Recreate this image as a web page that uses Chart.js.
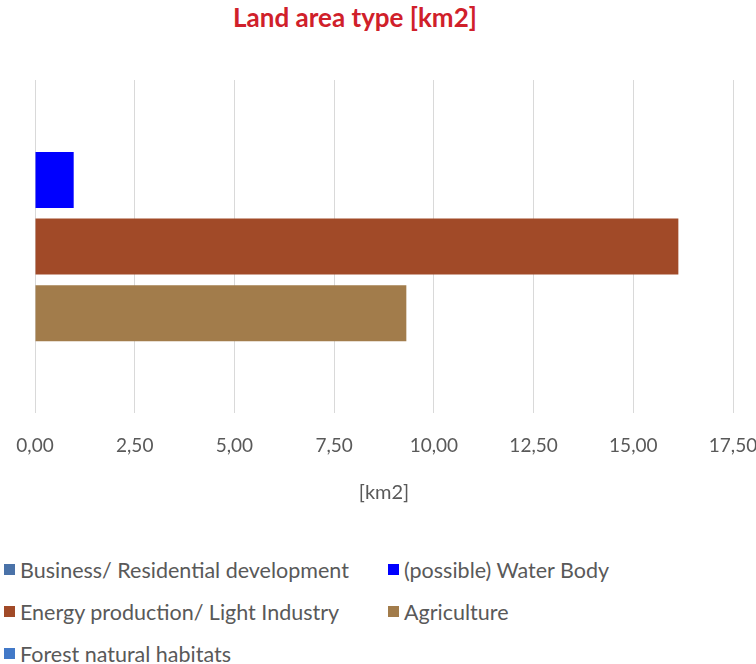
<!DOCTYPE html>
<html>
<head>
<meta charset="utf-8">
<script src="https://cdn.jsdelivr.net/npm/chart.js@4"></script>
<style>
  body { margin: 0; width: 756px; height: 664px; background: #fff; overflow: hidden; position: relative; font-family: Lato, sans-serif; }
  #title { position: absolute; top: 1px; left: 0; width: 710px; text-align: center; color: #d0202a; font: bold 26px Lato, sans-serif; }
  #wrap { position: absolute; top: 0; left: 0; width: 756px; height: 513px; }
  #legend { position: absolute; top: 558px; left: 4px; width: 750px; display: grid; grid-template-columns: 384px 360px; row-gap: 19px; }
  .item { display: flex; align-items: center; font-size: 21.5px; color: #595959; height: 23px; white-space: nowrap; }
  .box { width: 11px; height: 11px; margin-right: 5px; }
</style>
</head>
<body>
<div id="title">Land area type [km2]</div>
<div id="wrap"><canvas id="chart"></canvas></div>
<div id="legend"></div>
<script>
// --- Dados ---
const categories = ['Land area'];
const seriesNames = ['Business/ Residential development', '(possible) Water Body', 'Energy production/ Light Industry', 'Agriculture', 'Forest natural habitats'];
const seriesValues = [0, 0.97, 16.13, 9.31, 0];
const seriesColors = ['#4a72a8', '#0000ff', '#a14a28', '#a27c4b', '#4279c8'];
const xTicks = [0, 2.5, 5, 7.5, 10, 12.5, 15, 17.5];

const datasets = seriesNames.map((name, i) => ({
    label: name,
    data: [seriesValues[i]],
    backgroundColor: seriesColors[i],
    borderWidth: 0,
    categoryPercentage: 1,
    barPercentage: 0.84
}));

const ctx = document.getElementById('chart').getContext('2d');
new Chart(ctx, {
    type: 'bar',
    data: { labels: categories, datasets: datasets },
    options: {
        indexAxis: 'y',
        responsive: true,
        maintainAspectRatio: false,
        animation: false,
        layout: { padding: { top: 80, left: 35, right: 23, bottom: 0 } },
        scales: {
            x: {
                min: 0,
                max: 17.5,
                afterBuildTicks: (axis) => { axis.ticks = xTicks.map(v => ({ value: v })); },
                afterFit: (axis) => { axis.paddingLeft = 0; axis.paddingRight = 0; },
                grid: { color: '#d9d9d9', drawTicks: false },
                border: { display: false },
                ticks: {
                    color: '#595959',
                    font: { family: 'Lato', size: 19 },
                    padding: 21,
                    callback: (v) => v.toFixed(2).replace('.', ',')
                },
                title: { display: true, text: '[km2]', color: '#595959', font: { family: 'Lato', size: 20 }, padding: { top: 3, bottom: 8 } }
            },
            y: { display: false }
        },
        plugins: { legend: { display: false }, tooltip: { enabled: false } }
    }
});

// --- Legenda ---
const legend = document.getElementById('legend');
seriesNames.forEach((name, i) => {
    const item = document.createElement('div');
    item.className = 'item';
    item.innerHTML = `<span class="box" style="background:${seriesColors[i]}"></span>${name}`;
    legend.appendChild(item);
});
</script>
</body>
</html>
